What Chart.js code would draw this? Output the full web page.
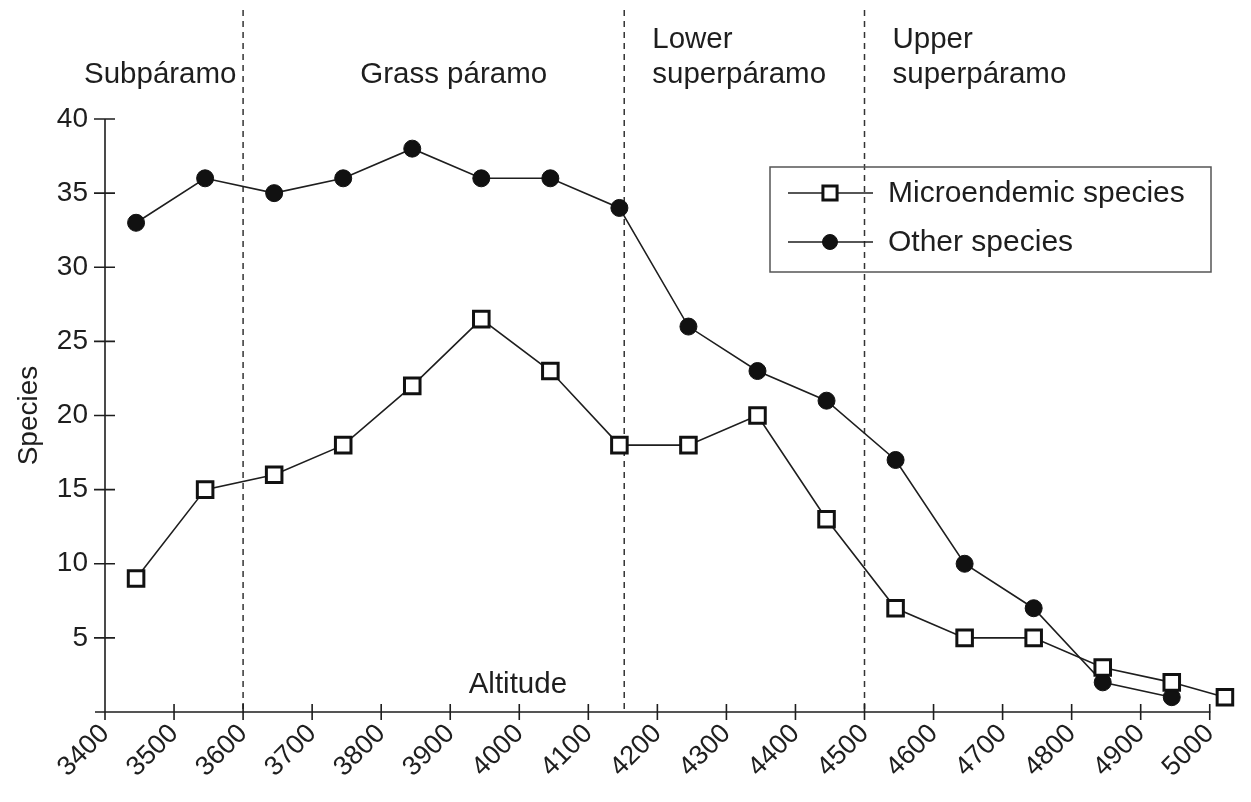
<!DOCTYPE html>
<html>
<head>
<meta charset="utf-8">
<script src="https://cdn.jsdelivr.net/npm/chart.js@4"></script>
<style>
  html, body { margin: 0; padding: 0; background: #fff; }
  #wrap { width: 1251px; height: 802px; position: relative; }
</style>
</head>
<body>
<div id="wrap"><canvas id="chart" width="1251" height="802"></canvas></div>
<script>
// ========================
// DATA
// ========================

const microAltitudes = [3445, 3545, 3645, 3745, 3845, 3945, 4045, 4145, 4245, 4345, 4445, 4545, 4645, 4745, 4845, 4945, 5022];
const microValues = [9, 15, 16, 18, 22, 26.5, 23, 18, 18, 20, 13, 7, 5, 5, 3, 2, 1];

const otherAltitudes = [3445, 3545, 3645, 3745, 3845, 3945, 4045, 4145, 4245, 4345, 4445, 4545, 4645, 4745, 4845, 4945];
const otherValues = [33, 36, 35, 36, 38, 36, 36, 34, 26, 23, 21, 17, 10, 7, 2, 1];

// altitude tick labels (the scale itself runs a little past the last one)
const altitudeTicks = [3400, 3500, 3600, 3700, 3800, 3900, 4000, 4100, 4200, 4300, 4400, 4500, 4600, 4700, 4800, 4900, 5000];
const speciesTicks = [5, 10, 15, 20, 25, 30, 35, 40];

// zone boundaries (dashed lines) and zone names
const zoneBounds = [3600, 4152, 4500];
const zoneLabels = [
  { lines: ["Subpáramo"], at: 3480, align: "center" },
  { lines: ["Grass páramo"], at: 3905, align: "center" },
  { lines: ["Lower", "superpáramo"], at: 4152, align: "left" },
  { lines: ["Upper", "superpáramo"], at: 4500, align: "left" }
];

const INK = "#1e1e1e";
const FONT = "'Liberation Sans', Arial, Helvetica, sans-serif";

const toPoints = (xs, ys) => xs.map((x, i) => ({ x, y: ys[i] }));

// ========================
// PLUGINS
// ========================

// axis lines with ticks crossing through them
const axesPlugin = {
  id: "crossAxes",
  afterDraw(chart) {
    const { ctx, chartArea, scales: { x, y } } = chart;
    const lastTick = altitudeTicks[altitudeTicks.length - 1];
    ctx.save();
    ctx.strokeStyle = INK;
    ctx.lineWidth = 1.6;
    ctx.beginPath();
    ctx.moveTo(x.left, y.getPixelForValue(40));
    ctx.lineTo(x.left, chartArea.bottom + 4);
    ctx.moveTo(x.left - 10, chartArea.bottom);
    ctx.lineTo(x.getPixelForValue(lastTick) + 1, chartArea.bottom);
    x.ticks.forEach(t => {
      const px = x.getPixelForValue(t.value);
      ctx.moveTo(px, chartArea.bottom - 8);
      ctx.lineTo(px, chartArea.bottom + 8);
    });
    y.ticks.forEach(t => {
      const py = y.getPixelForValue(t.value);
      ctx.moveTo(x.left - 11, py);
      ctx.lineTo(x.left + 10, py);
    });
    ctx.stroke();
    ctx.restore();
  }
};

// zone dividers and names, plus the in-plot axis caption
const zonesPlugin = {
  id: "zones",
  beforeDatasetsDraw(chart) {
    const { ctx, chartArea, scales: { x, y } } = chart;
    ctx.save();
    ctx.strokeStyle = "#333";
    ctx.lineWidth = 1.5;
    ctx.setLineDash([6, 5]);
    zoneBounds.forEach(b => {
      const px = x.getPixelForValue(b);
      ctx.beginPath();
      ctx.moveTo(px, 10);
      ctx.lineTo(px, chartArea.bottom);
      ctx.stroke();
    });
    ctx.setLineDash([]);
    ctx.fillStyle = INK;
    ctx.font = `29.5px ${FONT}`;
    ctx.textBaseline = "middle";
    zoneLabels.forEach(z => {
      let px = x.getPixelForValue(z.at);
      ctx.textAlign = z.align;
      if (z.align === "left") px += 28;
      const rows = z.lines;
      rows.forEach((line, i) => {
        const py = 75 - (rows.length - 1 - i) * 35;
        ctx.fillText(line, px, py);
      });
    });
    ctx.textAlign = "center";
    ctx.fillText("Altitude", x.getPixelForValue(3998), y.getPixelForValue(1.85));
    ctx.restore();
  }
};

// boxed legend with line + marker samples
const legendPlugin = {
  id: "boxLegend",
  afterDraw(chart) {
    const { ctx } = chart;
    const left = 770, top = 167, w = 441, h = 105;
    ctx.save();
    ctx.strokeStyle = "#555";
    ctx.lineWidth = 1.5;
    ctx.strokeRect(left, top, w, h);
    chart.data.datasets.forEach((ds, i) => {
      const cy = top + 26 + i * 49;
      ctx.strokeStyle = ds.borderColor;
      ctx.lineWidth = ds.borderWidth;
      ctx.beginPath();
      ctx.moveTo(left + 18, cy);
      ctx.lineTo(left + 103, cy);
      ctx.stroke();
      ctx.fillStyle = ds.pointBackgroundColor;
      ctx.strokeStyle = ds.pointBorderColor;
      ctx.lineWidth = ds.pointBorderWidth;
      ctx.beginPath();
      const r = ds.pointRadius - 1;
      if (ds.pointStyle === "rect") {
        const s = r * Math.SQRT1_2;
        ctx.rect(left + 60 - s, cy - s, 2 * s, 2 * s);
      } else {
        ctx.arc(left + 60, cy, r, 0, Math.PI * 2);
      }
      ctx.fill();
      ctx.stroke();
      ctx.fillStyle = INK;
      ctx.font = `30px ${FONT}`;
      ctx.textAlign = "left";
      ctx.textBaseline = "middle";
      ctx.fillText(ds.label, left + 118, cy + 1);
    });
    ctx.restore();
  }
};

// ========================
// CHART
// ========================

new Chart(document.getElementById("chart"), {
  type: "line",
  data: {
    datasets: [
      {
        label: "Microendemic species",
        data: toPoints(microAltitudes, microValues),
        borderColor: INK,
        borderWidth: 1.6,
        pointStyle: "rect",
        pointRadius: 11,
        pointBackgroundColor: "#fff",
        pointBorderColor: "#111",
        pointBorderWidth: 3,
        clip: false
      },
      {
        label: "Other species",
        data: toPoints(otherAltitudes, otherValues),
        borderColor: INK,
        borderWidth: 1.6,
        pointStyle: "circle",
        pointRadius: 8.5,
        pointBackgroundColor: "#111",
        pointBorderColor: "#111",
        pointBorderWidth: 1,
        clip: false
      }
    ]
  },
  options: {
    responsive: false,
    animation: false,
    layout: { padding: { top: 119, right: 24, left: 0, bottom: 0 } },
    plugins: {
      legend: { display: false },
      tooltip: { enabled: false }
    },
    scales: {
      x: {
        type: "linear",
        min: 3400,
        max: 5025,
        border: { display: false },
        grid: { display: false, drawTicks: false },
        ticks: {
          minRotation: 45,
          maxRotation: 45,
          autoSkip: false,
          padding: 6,
          color: INK,
          font: { family: FONT, size: 27 },
          callback: v => String(v)
        },
        afterBuildTicks: s => {
          s.ticks = altitudeTicks.map(value => ({ value }));
        },
        afterFit: s => { s.height = 90; }
      },
      y: {
        min: 0,
        max: 40,
        border: { display: false },
        grid: { display: false, drawTicks: false },
        ticks: {
          padding: 17,
          color: INK,
          font: { family: FONT, size: 28 },
          callback: v => String(v)
        },
        afterBuildTicks: s => {
          s.ticks = speciesTicks.map(value => ({ value }));
        },
        title: {
          display: true,
          text: "Species",
          color: INK,
          font: { family: FONT, size: 28 },
          padding: { top: 12, bottom: 0 }
        },
        afterFit: s => { s.width = 105; }
      }
    }
  },
  plugins: [zonesPlugin, axesPlugin, legendPlugin]
});
</script>
</body>
</html>
